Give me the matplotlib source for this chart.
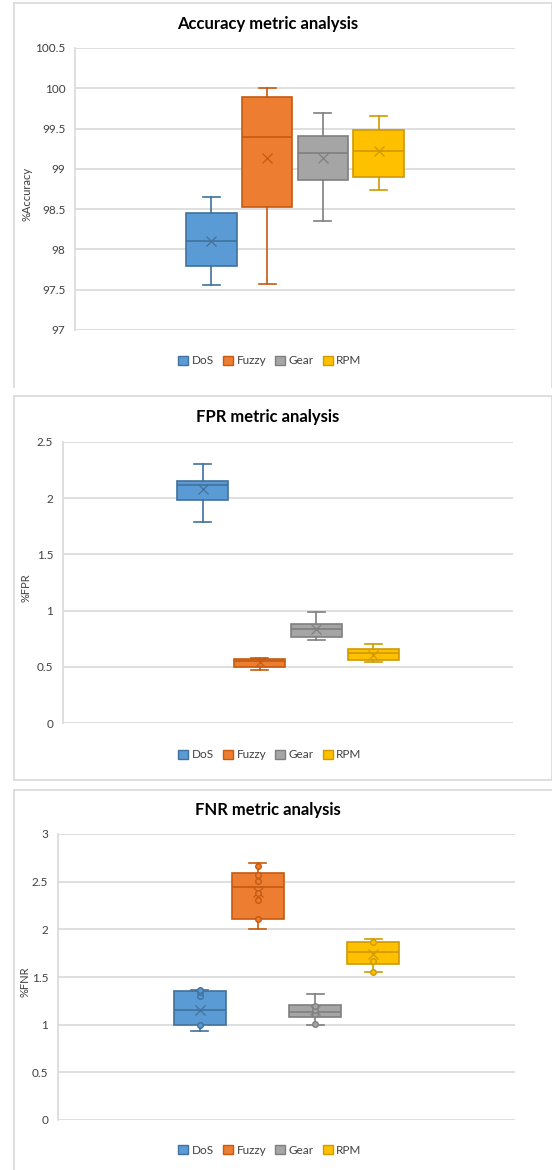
import matplotlib
matplotlib.use("Agg")
import matplotlib.pyplot as plt
from matplotlib.patches import Patch
from matplotlib.lines import Line2D

plt.rcParams['font.family'] = ['Lato', 'DejaVu Sans']

series = ["DoS", "Fuzzy", "Gear", "RPM"]
fills = ["#5B9BD5", "#ED7D31", "#A5A5A5", "#FFC000"]
edges = ["#41719C", "#C55A11", "#7F7F7F", "#D09A00"]

# Accuracy: [whislo, q1, med, q3, whishi, mean]
acc_whislo = [97.56, 97.57, 98.35, 98.74]
acc_q1 = [97.79, 98.53, 98.86, 98.90]
acc_med = [98.11, 99.40, 99.20, 99.22]
acc_q3 = [98.45, 99.89, 99.41, 99.48]
acc_whishi = [98.65, 100.0, 99.69, 99.65]
acc_mean = [98.11, 99.14, 99.14, 99.22]

fpr_whislo = [1.79, 0.475, 0.74, 0.54]
fpr_q1 = [1.98, 0.503, 0.77, 0.56]
fpr_med = [2.12, 0.553, 0.837, 0.621]
fpr_q3 = [2.154, 0.571, 0.885, 0.657]
fpr_whishi = [2.30, 0.583, 0.99, 0.70]
fpr_mean = [2.077, 0.54, 0.837, 0.607]

fnr_whislo = [0.93, 2.00, 1.00, 1.556]
fnr_q1 = [0.993, 2.112, 1.08, 1.633]
fnr_med = [1.157, 2.44, 1.136, 1.766]
fnr_q3 = [1.35, 2.587, 1.21, 1.864]
fnr_whishi = [1.364, 2.70, 1.318, 1.902]
fnr_mean = [1.157, 2.388, 1.154, 1.741]
fnr_points_dos = [0.993, 1.30, 1.346, 1.36]
fnr_points_fuzzy = [2.105, 2.308, 2.378, 2.503, 2.566, 2.664]
fnr_points_gear = [1.003, 1.108, 1.15, 1.20]
fnr_points_rpm = [1.556, 1.668, 1.864]

W, H = 552, 1170
fig = plt.figure(figsize=(W / 100, H / 100), dpi=100)

def fx(px):
    return px / W

def fy(py):
    return 1 - py / H

GRID = "#d9d9d9"

def border(x0, y0, x1, y1, sides):
    for s in sides:
        if s == "t":
            fig.add_artist(Line2D([fx(x0), fx(x1)], [fy(y0), fy(y0)], color=GRID, lw=1.2))
        if s == "b":
            fig.add_artist(Line2D([fx(x0), fx(x1)], [fy(y1), fy(y1)], color=GRID, lw=1.2))
        if s == "l":
            fig.add_artist(Line2D([fx(x0), fx(x0)], [fy(y0), fy(y1)], color=GRID, lw=1.2))
        if s == "r":
            fig.add_artist(Line2D([fx(x1), fx(x1)], [fy(y0), fy(y1)], color=GRID, lw=1.2))

def panel(rect_px, stats_lists, ylim, yticks, ticklabels, title, title_y, ylabel,
          ylabel_x, legend_y, points=None):
    x0, y0, x1, y1 = rect_px
    ax = fig.add_axes([fx(x0), fy(y1), (x1 - x0) / W, (y1 - y0) / H])
    whislo, q1, med, q3, whishi, mean = stats_lists
    positions = list(range(len(series)))
    for i in positions:
        st = [dict(whislo=whislo[i], q1=q1[i], med=med[i], q3=q3[i],
                   whishi=whishi[i], mean=mean[i], label=series[i])]
        ax.bxp(st, positions=[i], widths=0.9, patch_artist=True, showmeans=True,
               showfliers=False,
               boxprops=dict(facecolor=fills[i], edgecolor=edges[i], lw=1.2),
               medianprops=dict(color=edges[i], lw=1.2),
               whiskerprops=dict(color=edges[i], lw=1.2),
               capprops=dict(color=edges[i], lw=1.2),
               capwidths=0.3,
               meanprops=dict(marker="x", markeredgecolor=edges[i], markersize=7,
                              markeredgewidth=0.9),
               manage_ticks=False, zorder=3)
        if points is not None:
            pts = points[i]
            ax.plot([i] * len(pts), pts, linestyle="none", marker="o", markersize=4,
                    markerfacecolor=fills[i], markeredgecolor=edges[i],
                    markeredgewidth=1.0, zorder=4)
    ax.set_xlim(-2.45, 5.45)
    ax.set_ylim(*ylim)
    ax.set_yticks(yticks)
    ax.set_yticklabels(ticklabels, fontsize=8.5, color="#404040")
    ax.set_xticks([])
    ax.tick_params(axis="y", length=0, pad=7)
    ax.grid(axis="y", color=GRID, lw=1.2, zorder=0)
    ax.set_axisbelow(True)
    for s in ["top", "right", "bottom"]:
        ax.spines[s].set_visible(False)
    ax.spines["left"].set_color(GRID)
    ax.spines["left"].set_linewidth(1.2)
    fig.text(fx(268), fy(title_y), title, ha="center", va="center", fontsize=12,
             fontweight="bold", color="#000000")
    fig.text(fx(ylabel_x), fy((y0 + y1) / 2 + 5), ylabel, ha="center", va="center",
             rotation=90, fontsize=8, color="#404040")
    handles = [Patch(facecolor=fills[i], edgecolor=edges[i], label=series[i])
               for i in positions]
    fig.legend(handles=handles, loc="center", bbox_to_anchor=(fx(270), fy(legend_y)),
               ncol=4, frameon=False, fontsize=8.5, handlelength=0.85, handleheight=0.85,
               handletextpad=0.3, columnspacing=0.75, labelcolor="#404040")
    return ax

# Panel borders
border(14, 3, 551.5, 387, "tlr")
border(14, 396, 551.5, 780, "tlrb")
border(14, 790, 560, 1175, "tl")

panel((75, 48, 515, 330),
      (acc_whislo, acc_q1, acc_med, acc_q3, acc_whishi, acc_mean),
      (97, 100.5), [97, 97.5, 98, 98.5, 99, 99.5, 100, 100.5],
      ["97", "97.5", "98", "98.5", "99", "99.5", "100", "100.5"],
      "Accuracy metric analysis", 24, "%Accuracy", 27, 361)

panel((63, 441.7, 513, 723.3),
      (fpr_whislo, fpr_q1, fpr_med, fpr_q3, fpr_whishi, fpr_mean),
      (0, 2.5), [0, 0.5, 1, 1.5, 2, 2.5],
      ["0", "0.5", "1", "1.5", "2", "2.5"],
      "FPR metric analysis", 417, "%FPR", 26, 755)

panel((58, 834, 515, 1120),
      (fnr_whislo, fnr_q1, fnr_med, fnr_q3, fnr_whishi, fnr_mean),
      (0, 3), [0, 0.5, 1, 1.5, 2, 2.5, 3],
      ["0", "0.5", "1", "1.5", "2", "2.5", "3"],
      "FNR metric analysis", 810, "%FNR", 25, 1150,
      points=[fnr_points_dos, fnr_points_fuzzy, fnr_points_gear, fnr_points_rpm])

fig.savefig("out.png", dpi=100, facecolor="white")
